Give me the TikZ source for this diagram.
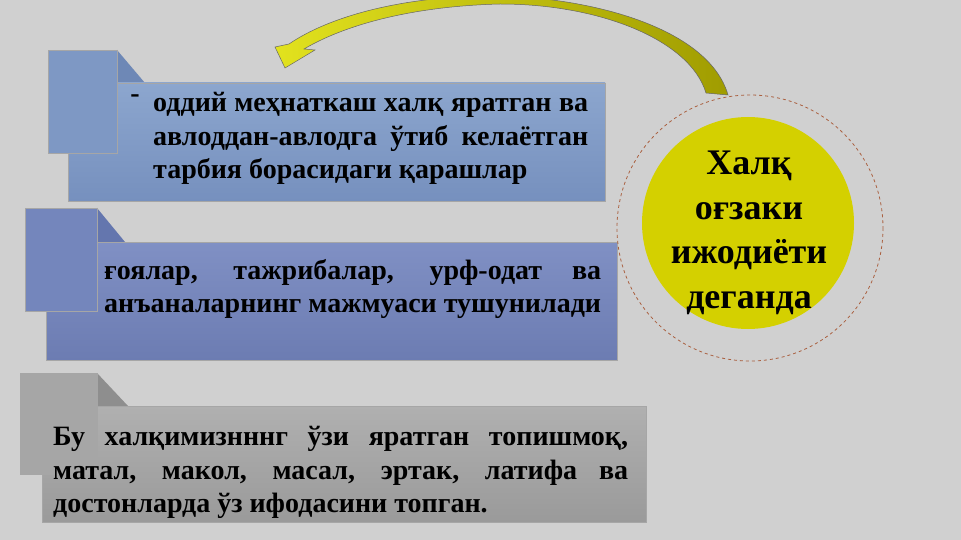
\documentclass[tikz,border=0pt]{standalone}
\usepackage{fontspec}
\setmainfont{Liberation Serif}
\usepackage{xcolor}
\usepackage{tikz}

\definecolor{bgcol}{RGB}{208,208,208}
\definecolor{blueTop}{RGB}{140,166,206}
\definecolor{blueBot}{RGB}{118,144,190}
\definecolor{blueTab}{RGB}{126,152,196}
\definecolor{blueFold}{RGB}{110,136,182}
\definecolor{violTop}{RGB}{128,144,196}
\definecolor{violBot}{RGB}{108,124,178}
\definecolor{violTab}{RGB}{116,134,188}
\definecolor{violFold}{RGB}{100,118,174}
\definecolor{grayTop}{RGB}{176,176,176}
\definecolor{grayBot}{RGB}{154,154,154}
\definecolor{grayTab}{RGB}{166,166,166}
\definecolor{grayFold}{RGB}{142,142,142}
\definecolor{folkYellow}{RGB}{212,208,0}
\definecolor{ringBrown}{RGB}{170,96,64}
\definecolor{arrLight}{RGB}{226,226,30}
\definecolor{arrDark}{RGB}{160,156,0}

\tikzset{
  txt/.style={inner sep=0pt, anchor=north west, align=justify,
    font=\fontsize{28}{33.6}\selectfont\bfseries},
  edge/.style={draw=black!35, line width=0.6pt}
}

\begin{document}
\begin{tikzpicture}[x=1pt,y=-1pt]

% background, pixel coordinates with y pointing down
\fill[bgcol] (0,0) rectangle (961,540);
\useasboundingbox (0,0) rectangle (961,540);

% first box
\begin{scope}
    \fill[blueFold] (117,50) -- (145,83) -- (117,83) -- cycle;
    \shade[edge, top color=blueTop, bottom color=blueBot] (68,83) rectangle (605,201);
    \fill[edge, fill=blueTab] (48,50) rectangle (117,153);
    \node[font=\fontsize{28}{33.6}\selectfont\bfseries] (dash1) at (135,99) {-};
    \node[txt, text width=435pt] (txt1) at (153,92)
      {оддий меҳнаткаш халқ яратган ва авлоддан-авлодга ўтиб келаётган тарбия борасидаги қарашлар};
\end{scope}

% second box
\begin{scope}
    \fill[violFold] (97,208) -- (125,242) -- (97,242) -- cycle;
    \shade[edge, top color=violTop, bottom color=violBot] (46,242) rectangle (617,360);
    \fill[edge, fill=violTab] (25,208) rectangle (97,311);
    \node[txt, text width=497pt] (txt2) at (104,259)
      {ғоялар, тажрибалар, урф-одат ва анъаналарнинг мажмуаси тушунилади};
\end{scope}

% third box
\begin{scope}
    \fill[grayFold] (97,373) -- (128,406) -- (97,406) -- cycle;
    \shade[edge, top color=grayTop, bottom color=grayBot] (42,406) rectangle (646,522);
    \fill[edge, fill=grayTab] (20,373) rectangle (97,474);
    \node[txt, text width=575pt] (txt3) at (53,426)
      {Бу халқимизнннг ўзи яратган топишмоқ, матал, макол, масал, эртак, латифа ва достонларда ўз ифодасини топган.};
\end{scope}

% circle on the right
\draw[ringBrown, dashed, line width=0.8pt] (750,228) circle (133);
\node[circle, fill=folkYellow, minimum size=212pt, inner sep=0pt] (folk) at (748,223) {};
\node[align=center, font=\fontsize{36}{44.5}\selectfont\bfseries] (folktxt) at (749,233)
  {Халқ\\оғзаки\\ижодиёти\\деганда};

% curved arrow back to the first box
\shade[left color=arrLight, right color=arrDark, draw=black!60, line width=0.5pt]
    (728,95) .. controls (708,25) and (580,-6) .. (480,-4)
    .. controls (400,-2) and (330,16) .. (289,44)
    -- (275,47) -- (285,68) -- (315,50) -- (304,49)
    .. controls (350,22) and (420,6) .. (500,4)
    .. controls (600,4) and (690,40) .. (706,93) -- cycle;

\end{tikzpicture}
\end{document}
